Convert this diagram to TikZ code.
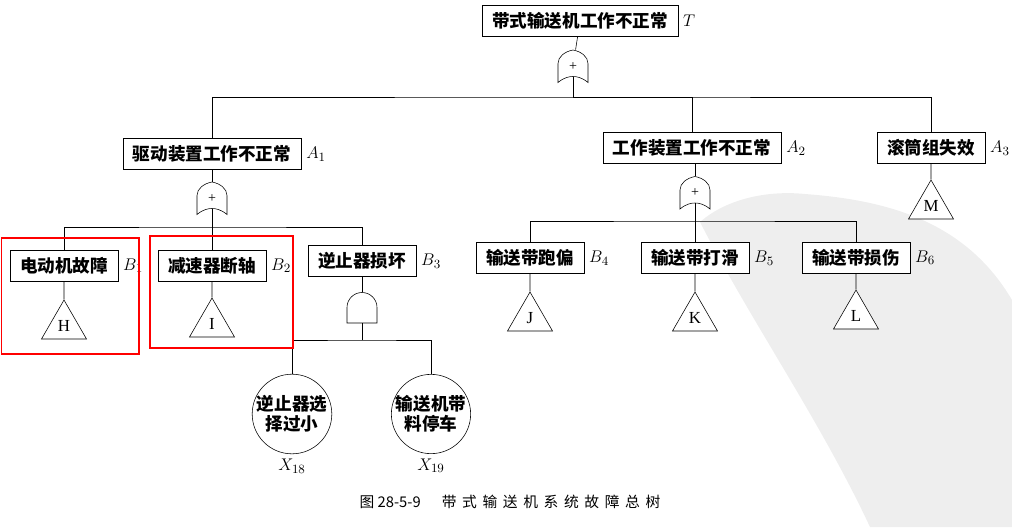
\documentclass[tikz,border=0pt]{standalone}
\usepackage{fontspec}
\setmainfont{Liberation Serif}
\newfontfamily\cjk{Noto Sans CJK SC}
\newfontfamily\cjkcap[LetterSpace=38]{Noto Sans CJK SC}
\usetikzlibrary{calc,shapes.geometric}

% OR gate outline: straight sides, arched top, hollow bottom
\newcommand{\orgate}[1]{%
  \draw ($(#1)+(-15,16)$) -- ($(#1)+(-15,-3)$)
    .. controls ($(#1)+(-15,-10)$) and ($(#1)+(-8,-15)$) .. ($(#1)+(0,-16.5)$)
    .. controls ($(#1)+(8,-15)$) and ($(#1)+(15,-10)$) .. ($(#1)+(15,-3)$)
    -- ($(#1)+(15,16)$)
    .. controls ($(#1)+(9,11)$) and ($(#1)+(4,10)$) .. ($(#1)+(0,10)$)
    .. controls ($(#1)+(-4,10)$) and ($(#1)+(-9,11)$) .. ($(#1)+(-15,16)$) -- cycle;
  \coordinate (#1-out) at ($(#1)+(0,10)$);}
% AND gate outline: round top, flat bottom
\newcommand{\andgate}[1]{%
  \draw ($(#1)+(-15,15.5)$) -- ($(#1)+(-15,0)$)
    arc[start angle=180, end angle=360, radius=15]
    -- ($(#1)+(15,15.5)$) -- cycle;}

\begin{document}
\begin{tikzpicture}[
    x=0.025cm, y=-0.025cm,
    label distance=0pt,
    event/.style={draw, fill=white, font=\fontsize{12.5pt}{15pt}\selectfont\cjk\bfseries, inner xsep=0.25cm, inner ysep=0pt, minimum height=0.78cm},
    basic/.style={circle, draw, fill=white, align=center, inner sep=0pt, minimum size=1.95cm, font=\fontsize{12.5pt}{14.5pt}\selectfont\cjk\bfseries},
    ext/.style={regular polygon, regular polygon sides=3, draw, fill=white, inner sep=0pt, minimum size=1.3cm, font=\fontsize{12pt}{12pt}\selectfont},
    orbox/.style={minimum width=0.75cm, minimum height=0.825cm, inner sep=0pt, font=\fontsize{10pt}{10pt}\selectfont},
    andbox/.style={minimum width=0.75cm, minimum height=0.775cm, inner sep=0pt},
    tag/.style={font=\fontsize{13pt}{15pt}\selectfont},
    mark box/.style={draw=red, line width=1.3pt}
  ]
  \useasboundingbox (0,0) rectangle (1012,527);

  % scan watermark
  \fill[gray!13] (700,222) .. controls (725,200) and (765,190) .. (805,194)
    .. controls (885,200) and (965,220) .. (1012,300) -- (1012,527) -- (870,527)
    .. controls (820,420) and (750,320) .. (700,222) -- cycle;

  % top event
  \node[event, label={[tag]right:$T$}] (T) at (580,21) {带式输送机工作不正常};
  \node[orbox] (g0) at (573,66.5) {+};
  \orgate{g0}
  \coordinate (bar0) at (573,97);

  % second level
  \node[event, label={[tag]right:$A_1$}] (A1) at (212,154) {驱动装置工作不正常};
  \node[event, label={[tag]right:$A_2$}] (A2) at (692,148) {工作装置工作不正常};
  \node[event, label={[tag]right:$A_3$}] (A3) at (931,148) {滚筒组失效};

  \draw (T) -- (g0);
  \draw (g0-out) -- (bar0);
  \draw (A1.north) |- (bar0) -| (A3.north);
  \draw (A2.north) |- (bar0);

  % under A1
  \node[orbox] (g1) at (212,198.5) {+};
  \orgate{g1}
  \coordinate (bar1) at (212,227);
  \node[event, label={[tag]right:$B_1$}] (B1) at (64,265.5) {电动机故障};
  \node[event, label={[tag]right:$B_2$}] (B2) at (212,265.5) {减速器断轴};
  \node[event, label={[tag]right:$B_3$}] (B3) at (362,261) {逆止器损坏};
  \node[ext] (H) at (64,326) {H};
  \node[ext] (I) at (212,324) {I};
  \node[andbox] (g3) at (362,307.5) {};
  \andgate{g3}
  \coordinate (bar3) at (362,340);
  \node[basic, label={[tag]below:$X_{18}$}] (X18) at (292,414) {逆止器选\\择过小};
  \node[basic, label={[tag]below:$X_{19}$}] (X19) at (431,414) {输送机带\\料停车};

  \draw (A1) -- (g1);
  \draw (g1-out) -- (bar1);
  \draw (B1.north) |- (bar1) -| (B3.north);
  \draw (B2.north) -- (bar1);
  \draw (B1) -- (H.north);
  \draw (B2) -- (I.north);
  \draw (B3) -- (g3);
  \draw (g3.south) -- (bar3);
  \draw (X18.north) |- (bar3) -| (X19.north);

  % under A2
  \node[orbox] (g2) at (695,193) {+};
  \orgate{g2}
  \coordinate (bar2) at (695,221);
  \node[event, label={[tag]right:$B_4$}] (B4) at (530,258) {输送带跑偏};
  \node[event, label={[tag]right:$B_5$}] (B5) at (695,258) {输送带打滑};
  \node[event, label={[tag]right:$B_6$}] (B6) at (856,257.5) {输送带损伤};
  \node[ext] (J) at (530,318) {J};
  \node[ext] (K) at (695,318) {K};
  \node[ext] (L) at (856,316) {L};

  \draw (g2.north) -- (g2.north |- A2.south);
  \draw (g2-out) -- (bar2);
  \draw (B4.north) |- (bar2) -| (B6.north);
  \draw (B5.north) -- (bar2);
  \draw (B4) -- (J.north);
  \draw (B5) -- (K.north);
  \draw (B6) -- (L.north);

  % under A3
  \node[ext] (M) at (931,206) {M};
  \draw (A3) -- (M.north);

  % marked branches
  \draw[mark box] (1.5,238) rectangle (139,354);
  \draw[mark box] (150,236) rectangle (293,348);

  \node[font=\fontsize{10.5pt}{12pt}\selectfont\cjk] (cap) at (510,502)
    {图\ 28-5-9\hspace{15pt}{\cjkcap 带式输送机系统故障总树}};
\end{tikzpicture}
\end{document}
